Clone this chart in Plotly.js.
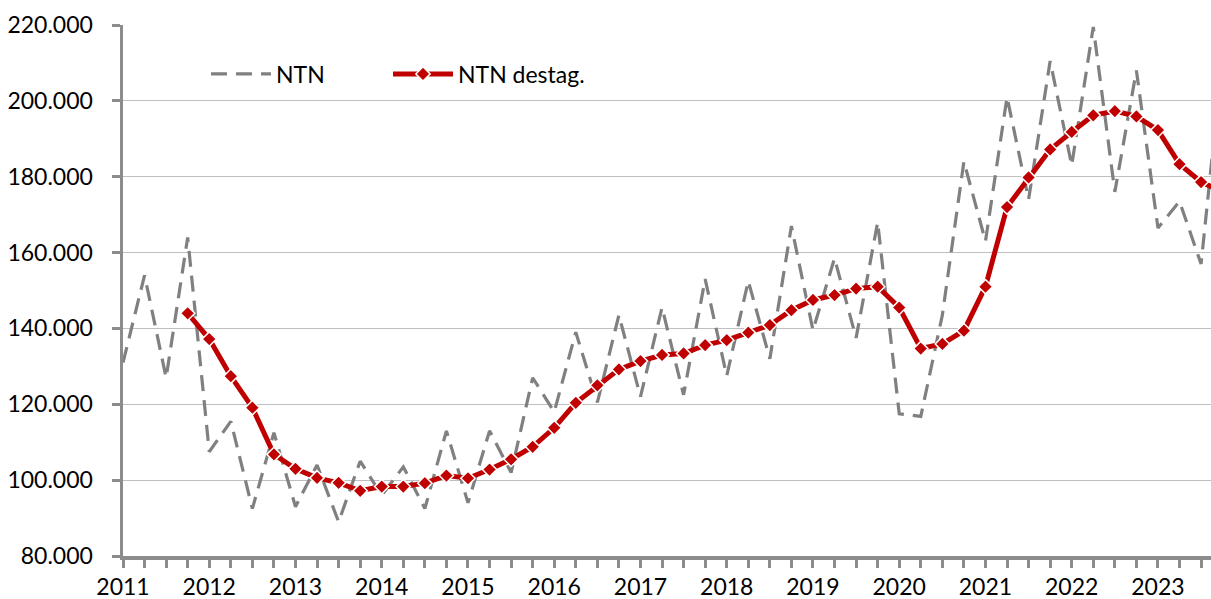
<!DOCTYPE html>
<html>
<head>
<meta charset="utf-8">
<script src="https://cdn.plot.ly/plotly-3.0.1.min.js"></script>
<style>
  html, body { margin: 0; padding: 0; background: #ffffff; }
  #chart { width: 1211px; height: 599px; }
</style>
</head>
<body>
<div id="chart"></div>
<script>
// Year labels (one per 4 quarters, starting 2011 Q1)
const years = ['2011','2012','2013','2014','2015','2016','2017','2018','2019','2020','2021','2022','2023'];

// NTN (raw), quarterly 2011 Q1 .. 2023 Q4
const ntn = [131000, 154000, 127000, 164000, 107500, 115500, 92500, 112500,
             93000, 104000, 89000, 105000, 96000, 103500, 92500, 113000,
             94000, 113000, 102000, 127000, 118000, 139000, 120500, 143500,
             122000, 145500, 122500, 153000, 127500, 152500, 132000, 167000,
             139500, 158500, 137500, 168000, 117500, 116800, 143500, 184000,
             163000, 201000, 174000, 210500, 183000, 219500, 176000, 208000,
             166500, 173500, 157000, 212000];

// NTN destag. (seasonally adjusted), starts 2011 Q4
const ntnDestag = [null, null, null, 144000, 137200, 127400, 119100, 106800,
                   103000, 100600, 99300, 97200, 98300, 98300, 99200, 101200,
                   100500, 102800, 105500, 108800, 113800, 120400, 125000, 129200,
                   131400, 133000, 133400, 135600, 136900, 138900, 140900, 144800,
                   147500, 148800, 150500, 151000, 145500, 134700, 135900, 139400,
                   151000, 172000, 179800, 187200, 191800, 196200, 197300, 195900,
                   192300, 183300, 178600, 176000];

const quarterIdx = ntn.map((_, i) => i);
const yearIdx = years.map((_, i) => i * 4);

const FONT = 'Lato, "Open Sans", sans-serif';

const traces = [
  {
    x: quarterIdx, y: ntn, name: 'NTN', type: 'scatter', mode: 'lines',
    line: { color: '#808080', width: 3.2, dash: '16px,9px' },
    legend: 'legend', hoverinfo: 'skip'
  },
  {
    x: quarterIdx, y: ntnDestag, name: 'NTN destag.', type: 'scatter', mode: 'lines+markers',
    line: { color: '#c00000', width: 5 },
    marker: { symbol: 'diamond', size: 11, color: '#c00000', line: { color: '#ffffff', width: 1.5 } },
    legend: 'legend2', hoverinfo: 'skip'
  }
];

const PLOT_W = 1088, PLOT_H = 531;
const legY = (556 - 74) / PLOT_H;

const layout = {
  width: 1211, height: 599,
  paper_bgcolor: '#ffffff', plot_bgcolor: '#ffffff',
  margin: { l: 123, r: 0, t: 25, b: 43, pad: 0 },
  separators: ',.',
  font: { family: FONT, size: 23, color: '#000000' },
  showlegend: true,
  legend: {
    orientation: 'h', xref: 'paper', yref: 'paper',
    x: (206 - 123) / PLOT_W, xanchor: 'left', y: legY, yanchor: 'middle',
    itemwidth: 60, bgcolor: 'rgba(0,0,0,0)',
    font: { family: FONT, size: 23, color: '#000000' }
  },
  legend2: {
    orientation: 'h', xref: 'paper', yref: 'paper',
    x: (388 - 123) / PLOT_W, xanchor: 'left', y: legY, yanchor: 'middle',
    itemwidth: 60, bgcolor: 'rgba(0,0,0,0)',
    font: { family: FONT, size: 23, color: '#000000' }
  },
  xaxis: {
    type: 'linear',
    range: [0, 50.46],
    tickmode: 'array', tickvals: yearIdx, ticktext: years,
    ticks: 'outside', ticklen: 8, tickwidth: 3, tickcolor: '#8c8c8c',
    minor: { dtick: 1, tick0: 0, ticks: 'outside', ticklen: 8, tickwidth: 3, tickcolor: '#8c8c8c', showgrid: false },
    showline: true, linecolor: '#8c8c8c', linewidth: 3.5,
    showgrid: false, zeroline: false,
    tickfont: { family: FONT, size: 23, color: '#000000' },
    ticklabelstandoff: 0,
    fixedrange: true
  },
  yaxis: {
    range: [80000, 220000],
    tickmode: 'linear', tick0: 80000, dtick: 20000,
    tickformat: ',.0f',
    ticks: 'outside', ticklen: 8, tickwidth: 3, tickcolor: '#8c8c8c',
    showline: true, linecolor: '#8c8c8c', linewidth: 3.5,
    showgrid: true, gridcolor: '#bfbfbf', gridwidth: 1.2,
    zeroline: false,
    tickfont: { family: FONT, size: 23, color: '#000000' },
    ticklabelstandoff: 14,
    fixedrange: true
  }
};

Plotly.newPlot('chart', traces, layout, { displayModeBar: false, staticPlot: true });
</script>
</body>
</html>
